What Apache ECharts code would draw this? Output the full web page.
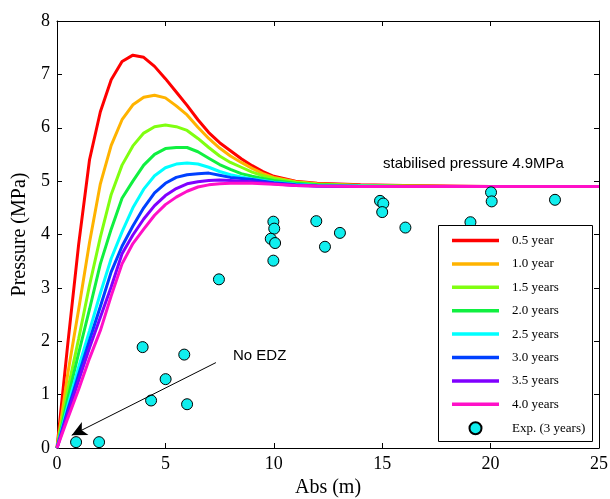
<!DOCTYPE html>
<html>
<head>
<meta charset="utf-8">
<script src="https://cdn.jsdelivr.net/npm/echarts@6/dist/echarts.min.js"></script>
<style>html,body{margin:0;padding:0;background:#fff;overflow:hidden}#c{width:610px;height:499px}</style>
</head>
<body>
<div id="c"></div>
<script>
// x positions (m) shared by the model curves
const absX = [0,0.5,1,1.5,2,2.5,3,3.5,4,4.5,5,5.5,6,6.5,7,7.5,8,8.5,9,9.5,10,11,12,14,16,18,20,22,25];
const p05 = [0,1.96,3.82,5.4,6.3,6.9,7.24,7.36,7.32,7.15,6.92,6.67,6.42,6.15,5.91,5.72,5.57,5.42,5.29,5.18,5.09,5.0,4.96,4.93,4.92,4.91,4.9,4.9,4.9];
const p10 = [0,1.4,2.6,3.85,4.95,5.67,6.15,6.43,6.57,6.61,6.56,6.41,6.24,6.01,5.8,5.62,5.47,5.35,5.24,5.14,5.07,4.99,4.95,4.92,4.91,4.9,4.9,4.9,4.9];
const p15 = [0,1.1,2.05,3.05,3.95,4.75,5.3,5.66,5.9,6.02,6.05,6.02,5.95,5.8,5.63,5.47,5.35,5.26,5.17,5.1,5.05,4.98,4.94,4.92,4.91,4.9,4.9,4.9,4.9];
const p20 = [0,0.93,1.78,2.6,3.45,4.1,4.68,5.0,5.3,5.5,5.61,5.63,5.63,5.55,5.43,5.31,5.22,5.14,5.09,5.05,5.01,4.96,4.93,4.91,4.9,4.9,4.9,4.9,4.9];
const p25 = [0,0.8,1.52,2.2,2.9,3.55,4.05,4.5,4.85,5.1,5.25,5.32,5.34,5.32,5.26,5.18,5.12,5.08,5.04,5.01,4.98,4.94,4.92,4.91,4.9,4.9,4.9,4.9,4.9];
const p30 = [0,0.72,1.38,2.02,2.65,3.3,3.78,4.16,4.5,4.78,4.96,5.07,5.12,5.14,5.15,5.11,5.07,5.05,5.03,5.0,4.97,4.93,4.91,4.9,4.9,4.9,4.9,4.9,4.9];
const p35 = [0,0.65,1.27,1.88,2.45,3.02,3.64,3.99,4.29,4.54,4.73,4.86,4.95,4.99,5.01,5.02,5.01,5.0,4.99,4.97,4.95,4.92,4.91,4.9,4.9,4.9,4.9,4.9,4.9];
const p40 = [0,0.56,1.1,1.68,2.2,2.85,3.45,3.83,4.1,4.36,4.56,4.7,4.81,4.89,4.93,4.95,4.96,4.96,4.96,4.95,4.94,4.92,4.91,4.9,4.9,4.9,4.9,4.9,4.9];
// experimental points (3 years)
const expX = [0.88,1.94,3.95,4.34,5.01,5.87,6.0,7.47,9.98,9.98,10.02,9.86,10.06,11.96,12.36,13.05,14.9,15.05,15.0,16.07,19.07,20.02,20.05,22.97];
const expY = [0.11,0.11,1.89,0.89,1.29,1.75,0.82,3.16,3.51,4.24,4.11,3.92,3.84,4.25,3.77,4.03,4.63,4.58,4.42,4.13,4.23,4.79,4.62,4.65];
const seriesNames = ['0.5 year','1.0 year','1.5 years','2.0 years','2.5 years','3.0 years','3.5 years','4.0 years'];
const expName = 'Exp. (3 years)';
const xTicks = [0,5,10,15,20,25];
const yTicks = [0,1,2,3,4,5,6,7,8];
// arrow annotation endpoints (data coords)
const arrowFrom = [7.33,1.6];
const arrowTo = [0.68,0.24];

const curves = [p05,p10,p15,p20,p25,p30,p35,p40];
const colors = ['#ff0000','#ffb300','#80ff10','#10f040','#00ffff','#0040ff','#8000ff','#ff10c8'];

const chart = echarts.init(document.getElementById('c'));
const serif = 'Liberation Serif, Times New Roman, serif';
const sans = 'Liberation Sans, Arial, Helvetica, sans-serif';

const series = curves.map((c,i)=>({
  name: seriesNames[i], type:'line', symbol:'none', showSymbol:false, z: 2,
  data: absX.map((x,j)=>[x,c[j]]),
  lineStyle:{color:colors[i], width:3}, itemStyle:{color:colors[i]},
  animation:false
}));
series.push({
  name: expName, type:'scatter', symbol:'circle', symbolSize:11, z:3,
  data: expX.map((x,i)=>[x,expY[i]]),
  itemStyle:{color:'#10eeee', borderColor:'#000', borderWidth:1, opacity:1},
  animation:false,
  markLine:{
    silent:true, symbol:['none','arrow'], symbolSize:[11,15],
    lineStyle:{color:'#000', width:1, type:'solid'},
    itemStyle:{color:'#000'},
    label:{show:false},
    data:[[{coord:arrowFrom},{coord:arrowTo}]]
  }
});

const axisCommon = {
  min:0, axisLine:{show:true, onZero:false, lineStyle:{color:'#000', width:1}},
  axisTick:{show:true, inside:true, length:5, lineStyle:{color:'#000'}},
  splitLine:{show:false}
};

const lineIcon = 'path://M0,0H47V3.5H0Z';

chart.setOption({
  animation:false,
  backgroundColor:'#fff',
  grid:{left:57, right:11, top:21, bottom:51, containLabel:false, outerBoundsMode:'none'},
  xAxis:[
    Object.assign({}, axisCommon, {type:'value', position:'bottom', max:25, interval:5,
      name:'Abs (m)', nameLocation:'middle', nameGap:27,
      nameTextStyle:{fontFamily:serif, fontSize:20, color:'#000'},
      axisLabel:{fontFamily:serif, fontSize:18, color:'#000', margin:7,
        formatter:v=>xTicks.includes(v)?String(v):''}}),
    Object.assign({}, axisCommon, {type:'value', position:'top', max:25, interval:5, axisLabel:{show:false}})
  ],
  yAxis:[
    Object.assign({}, axisCommon, {type:'value', position:'left', max:8, interval:1,
      name:'Pressure (MPa)', nameLocation:'middle', nameGap:21,
      nameTextStyle:{fontFamily:serif, fontSize:20, color:'#000'},
      axisLabel:{fontFamily:serif, fontSize:18, color:'#000', margin:7,
        formatter:v=>yTicks.includes(v)?String(v):''}}),
    Object.assign({}, axisCommon, {type:'value', position:'right', max:8, interval:1, axisLabel:{show:false}})
  ],
  legend:{
    orient:'vertical', left:447, top:229, z:20,
    itemWidth:47, itemHeight:12, itemGap:10.4,
    data:[...seriesNames.map(n=>({name:n, icon:lineIcon})), {name:expName, icon:'circle'}],
    textStyle:{fontFamily:serif, fontSize:13, color:'#000', padding:[0,0,0,8]},
    inactiveColor:'#ccc'
  },
  graphic:[
    {type:'rect', left:438, top:225, z:10, shape:{width:154, height:216},
      style:{fill:'#fff', stroke:'#000', lineWidth:1}},
    {type:'text', left:383, top:156, z:5,
      style:{text:'stabilised pressure 4.9MPa', font:'15px '+sans, fill:'#000'}},
    {type:'text', left:233, top:348, z:5,
      style:{text:'No EDZ', font:'15px '+sans, fill:'#000'}}
  ],
  series: series
});
</script>
</body>
</html>
